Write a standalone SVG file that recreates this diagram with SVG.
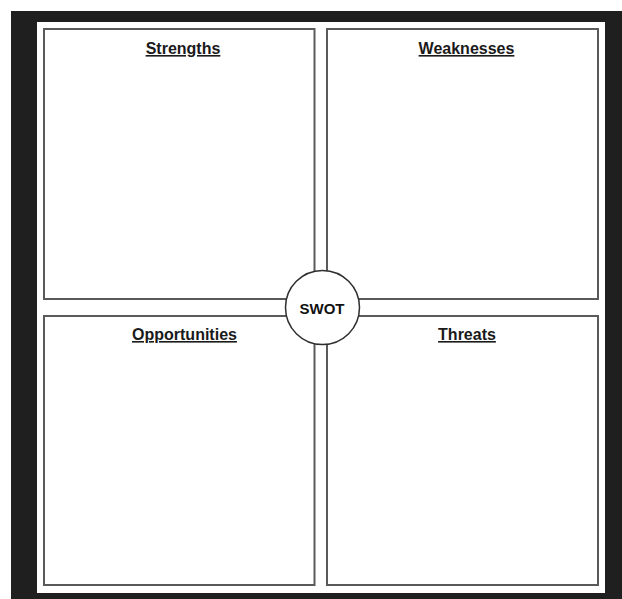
<svg xmlns="http://www.w3.org/2000/svg" width="622" height="599" viewBox="0 0 622 599">
  <style>
    .quad { fill: #ffffff; stroke: #5a5a5a; stroke-width: 2; }
    .hub { fill: #ffffff; stroke: #2e2e2e; stroke-width: 1.5; }
    .title { font-family: "Liberation Sans", Arial, sans-serif; font-size: 16px; font-weight: bold; fill: #1a1a1a; text-anchor: middle; text-decoration: underline; }
    .hubtext { font-family: "Liberation Sans", Arial, sans-serif; font-size: 15px; font-weight: bold; fill: #111111; text-anchor: middle; }
  </style>

  <!-- page backdrop and dark frame -->
  <rect x="0" y="0" width="622" height="599" fill="#ffffff"/>
  <rect x="11" y="11" width="611" height="588" fill="#1f1f1f"/>
  <rect x="37" y="22" width="568" height="571" fill="#ffffff"/>

  <g id="strengths">
    <rect class="quad" x="44" y="29" width="270.5" height="270"/>
    <text class="title" x="183" y="54">Strengths</text>
  </g>

  <g id="weaknesses">
    <rect class="quad" x="327" y="29" width="271" height="270"/>
    <text class="title" x="466.5" y="54">Weaknesses</text>
  </g>

  <g id="opportunities">
    <rect class="quad" x="44" y="316" width="270.5" height="269"/>
    <text class="title" x="184.5" y="340">Opportunities</text>
  </g>

  <g id="threats">
    <rect class="quad" x="327" y="316" width="271" height="269"/>
    <text class="title" x="467" y="340">Threats</text>
  </g>

  <g id="swot">
    <circle class="hub" cx="322.5" cy="307.5" r="37"/>
    <text class="hubtext" x="322" y="314">SWOT</text>
  </g>
</svg>
